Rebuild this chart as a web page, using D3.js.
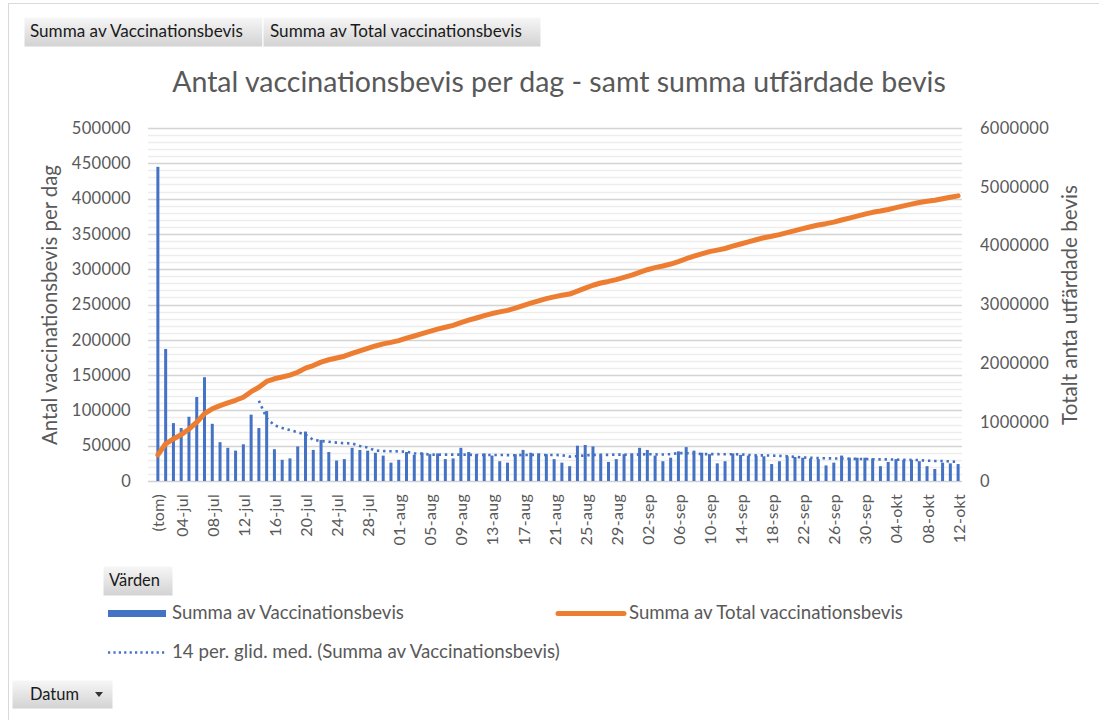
<!DOCTYPE html>
<html><head><meta charset="utf-8">
<script src="https://cdn.jsdelivr.net/npm/d3@7"></script>
<style>
body{margin:0;background:#fff}
svg{display:block}
text{font-family:Lato,"Open Sans",sans-serif}
</style>
</head><body>
<svg id="c" width="1099" height="720"></svg>
<script>
// ---------------- DATA ----------------
const categories = ["(tom)",
"02-jul","03-jul","04-jul","05-jul","06-jul","07-jul","08-jul","09-jul","10-jul","11-jul","12-jul","13-jul","14-jul","15-jul","16-jul","17-jul","18-jul","19-jul","20-jul","21-jul","22-jul","23-jul","24-jul","25-jul","26-jul","27-jul","28-jul","29-jul","30-jul","31-jul",
"01-aug","02-aug","03-aug","04-aug","05-aug","06-aug","07-aug","08-aug","09-aug","10-aug","11-aug","12-aug","13-aug","14-aug","15-aug","16-aug","17-aug","18-aug","19-aug","20-aug","21-aug","22-aug","23-aug","24-aug","25-aug","26-aug","27-aug","28-aug","29-aug","30-aug","31-aug",
"01-sep","02-sep","03-sep","04-sep","05-sep","06-sep","07-sep","08-sep","09-sep","10-sep","11-sep","12-sep","13-sep","14-sep","15-sep","16-sep","17-sep","18-sep","19-sep","20-sep","21-sep","22-sep","23-sep","24-sep","25-sep","26-sep","27-sep","28-sep","29-sep","30-sep",
"01-okt","02-okt","03-okt","04-okt","05-okt","06-okt","07-okt","08-okt","09-okt","10-okt","11-okt","12-okt"];

const dailyValues = [
445000,187000,82000,75000,91000,119000,147000,81000,55000,47000,
43000,52000,94000,75000,99000,45000,30000,32000,49000,70000,
44000,58000,41000,29000,31000,47000,44000,43000,40000,36000,
26000,30000,41000,37000,40000,38000,39000,31000,32000,47000,
41000,38000,39000,36000,28000,26000,38000,44000,40000,39000,
38000,31000,26000,21000,50000,51000,49000,38000,27000,31000,
38000,39000,47000,44000,36000,28000,33000,42000,48000,43000,
40000,38000,25000,28000,39000,37000,36000,36000,35000,24000,
28000,35000,34000,33000,32000,31000,22000,26000,36000,33000,
33000,33000,32000,21000,27000,31000,30000,30000,28000,21000,
17000,26000,25000,24000];

const totalValues = [
445000,632000,714000,789000,880000,999000,1146000,1227000,1282000,1329000,
1372000,1424000,1518000,1593000,1692000,1737000,1767000,1799000,1848000,1918000,
1962000,2020000,2061000,2090000,2121000,2168000,2212000,2255000,2295000,2331000,
2357000,2387000,2428000,2465000,2505000,2543000,2582000,2613000,2645000,2692000,
2733000,2771000,2810000,2846000,2874000,2900000,2938000,2982000,3022000,3061000,
3099000,3130000,3156000,3177000,3227000,3278000,3327000,3365000,3392000,3423000,
3461000,3500000,3547000,3591000,3627000,3655000,3688000,3730000,3778000,3821000,
3861000,3899000,3924000,3952000,3991000,4028000,4064000,4100000,4135000,4159000,
4187000,4222000,4256000,4289000,4321000,4352000,4374000,4400000,4436000,4469000,
4502000,4535000,4567000,4588000,4615000,4646000,4676000,4706000,4734000,4755000,
4772000,4798000,4823000,4847000];

const movingAvg14 = [
null,null,null,null,null,null,null,null,null,null,null,null,null,
113800,89100,78900,75200,72100,69100,65600,58300,56600,55600,
54400,53500,53100,49600,47300,43100,42400,42100,42000,41400,
39100,38800,37400,37200,37400,37400,37400,37200,36900,36800,
36800,36900,36600,36400,36900,36900,37000,36900,36900,36500,
34600,35300,36200,36900,37100,37000,37400,37400,37000,37500,
37900,37700,37500,38000,39500,39400,38800,38100,38100,38000,
37800,37900,37700,36900,36400,36300,36000,35600,35100,34100,
33400,32900,32400,32100,32000,31800,31500,31300,31100,30900,
30600,30600,30300,30000,29800,29500,28800,28400,28400,27600,
27000];

const tickLabels = ["(tom)","04-jul","08-jul","12-jul","16-jul","20-jul","24-jul","28-jul",
"01-aug","05-aug","09-aug","13-aug","17-aug","21-aug","25-aug","29-aug",
"02-sep","06-sep","10-sep","14-sep","18-sep","22-sep","26-sep","30-sep",
"04-okt","08-okt","12-okt"];
const leftTicks = [0,50000,100000,150000,200000,250000,300000,350000,400000,450000,500000];
const rightTicks = [0,1000000,2000000,3000000,4000000,5000000,6000000];
const minorLeftTicks = d3.range(0, 500001, 10000);

const chartTitle = "Antal vaccinationsbevis per dag - samt summa utfärdade bevis";
const leftTitle = "Antal vaccinationsbevis per dag";
const rightTitle = "Totalt anta utfärdade bevis";
const seriesNames = ["Summa av Vaccinationsbevis","Summa av Total vaccinationsbevis","14 per. glid. med. (Summa av Vaccinationsbevis)"];

// ---------------- DRAW ----------------
const svg = d3.select("#c");
const TXT = "#595959";
const BLUE = "#4472C4", ORANGE = "#ED7D31";

function fit(sel, target){
  const n = sel.node();
  const fs = parseFloat(sel.attr("font-size"));
  const w = n.getComputedTextLength();
  if (w > 0) sel.attr("font-size", (fs*target/w).toFixed(2));
  return sel;
}

// defs
const defs = svg.append("defs");
const g1 = defs.append("linearGradient").attr("id","btn").attr("x1",0).attr("y1",0).attr("x2",0).attr("y2",1);
g1.append("stop").attr("offset","0%").attr("stop-color","#f7f7f7");
g1.append("stop").attr("offset","100%").attr("stop-color","#d2d2d2");

// frame
svg.append("rect").attr("x",8.5).attr("y",3.5).attr("width",1095).attr("height",720)
  .attr("fill","#fff").attr("stroke","#d9d9d9");

const L = 154, R = 962, T = 128, B = 481;
const x = d3.scaleBand().domain(categories).range([L, R]).paddingInner(0).paddingOuter(0);
const bw = x.bandwidth();
const cx = d => x(d) + bw/2;
const yL = d3.scaleLinear().domain([0, 500000]).range([B, T]);
const yR = d3.scaleLinear().domain([0, 6000000]).range([B, T]);

// gridlines
const grid = svg.append("g");
grid.selectAll("line.minor").data(minorLeftTicks.filter(v => v % 50000 !== 0)).join("line")
  .attr("x1", 148).attr("x2", R).attr("y1", d => Math.round(yL(d))+0.5).attr("y2", d => Math.round(yL(d))+0.5)
  .attr("stroke","#ededed").attr("stroke-width",1.4);
grid.selectAll("line.major").data(leftTicks.filter(v => v>0)).join("line")
  .attr("x1", 148).attr("x2", R).attr("y1", d => Math.round(yL(d))+0.5).attr("y2", d => Math.round(yL(d))+0.5)
  .attr("stroke","#d4d4d4").attr("stroke-width",1.6);
svg.append("line").attr("x1",148).attr("x2",R).attr("y1",B+0.5).attr("y2",B+0.5).attr("stroke","#d0d0d0").attr("stroke-width",1.4);

// bars
const barW = 3;
svg.append("g").selectAll("rect").data(categories).join("rect")
  .attr("x", (d) => cx(d) - barW/2)
  .attr("width", barW)
  .attr("y", (d,i) => yL(dailyValues[i]))
  .attr("height", (d,i) => B - yL(dailyValues[i]))
  .attr("fill", BLUE);

// moving average (dotted)
const maLine = d3.line().defined(d => d[1] != null).x(d => cx(d[0])).y(d => yL(d[1]));
svg.append("path").datum(categories.map((c,i) => [c, movingAvg14[i]]))
  .attr("d", maLine).attr("fill","none").attr("stroke", BLUE)
  .attr("stroke-width", 2.6).attr("stroke-dasharray","2.4 3.8");

// total line
const totLine = d3.line().x(d => cx(d[0])).y(d => yR(d[1]));
svg.append("path").datum(categories.map((c,i) => [c, totalValues[i]]))
  .attr("d", totLine).attr("fill","none").attr("stroke", ORANGE)
  .attr("stroke-width", 5).attr("stroke-linejoin","round").attr("stroke-linecap","round");

// left axis
const axL = svg.append("g").attr("transform", `translate(${L},0)`)
  .call(d3.axisLeft(yL).tickValues(leftTicks).tickSize(0).tickPadding(23).tickFormat(d3.format("d")));
axL.select(".domain").remove();
axL.selectAll("text").attr("fill", TXT).attr("font-size", 16.5).attr("font-family","Lato").attr("letter-spacing","0.3px");

// right axis
const axR = svg.append("g").attr("transform", `translate(${R},0)`)
  .call(d3.axisRight(yR).tickValues(rightTicks).tickSize(0).tickPadding(18).tickFormat(d3.format("d")));
axR.select(".domain").remove();
axR.selectAll("text").attr("fill", TXT).attr("font-size", 16.5).attr("font-family","Lato").attr("letter-spacing","0.3px");

// x labels
svg.append("g").selectAll("text").data(tickLabels).join("text")
  .attr("transform", d => `translate(${cx(d)},494) rotate(-90)`)
  .attr("text-anchor","end").attr("dominant-baseline","central")
  .attr("fill", TXT).attr("font-size", 16).attr("letter-spacing","0.3px")
  .text(d => d);

// titles
fit(svg.append("text").attr("x", 559).attr("y", 92).attr("text-anchor","middle")
  .attr("fill", TXT).attr("font-size", 24).text(chartTitle), 774);
fit(svg.append("text").attr("transform","translate(57,305) rotate(-90)").attr("text-anchor","middle")
  .attr("fill", TXT).attr("font-size", 17).text(leftTitle), 280);
fit(svg.append("text").attr("transform","translate(1077,305) rotate(-90)").attr("text-anchor","middle")
  .attr("fill", TXT).attr("font-size", 17).text(rightTitle), 240);

// buttons
function button(x0, y0, w, h, label, tx, tw){
  svg.append("rect").attr("x",x0).attr("y",y0).attr("width",w).attr("height",h).attr("fill","url(#btn)")
    .attr("stroke","#ffffff").attr("stroke-width",1);
  fit(svg.append("text").attr("x",tx).attr("y",y0+h/2+5).attr("fill","#1a1a1a").attr("font-size",15).text(label), tw);
}
button(24, 17, 239, 30, "Summa av Vaccinationsbevis", 30, 213);
button(263, 17, 278, 30, "Summa av Total vaccinationsbevis", 270, 252);
button(103, 566, 70, 30, "Värden", 109, 51);
button(12, 680, 101, 29, "Datum", 30, 49);
svg.append("path").attr("d","M95,692 L103,692 L99,697 Z").attr("fill","#333");

// legend
svg.append("rect").attr("x",108).attr("y",610).attr("width",58).attr("height",7).attr("fill",BLUE);
fit(svg.append("text").attr("x",172).attr("y",619).attr("fill",TXT).attr("font-size",16).text(seriesNames[0]), 232);
svg.append("line").attr("x1",558).attr("x2",624).attr("y1",613.5).attr("y2",613.5)
  .attr("stroke",ORANGE).attr("stroke-width",5).attr("stroke-linecap","round");
fit(svg.append("text").attr("x",629).attr("y",619).attr("fill",TXT).attr("font-size",16).text(seriesNames[1]), 274);
svg.append("line").attr("x1",108).attr("x2",166).attr("y1",652.5).attr("y2",652.5)
  .attr("stroke",BLUE).attr("stroke-width",2.4).attr("stroke-dasharray","2.2 3.2");
fit(svg.append("text").attr("x",172).attr("y",658).attr("fill",TXT).attr("font-size",16).text(seriesNames[2]), 388);
</script>
</body></html>
